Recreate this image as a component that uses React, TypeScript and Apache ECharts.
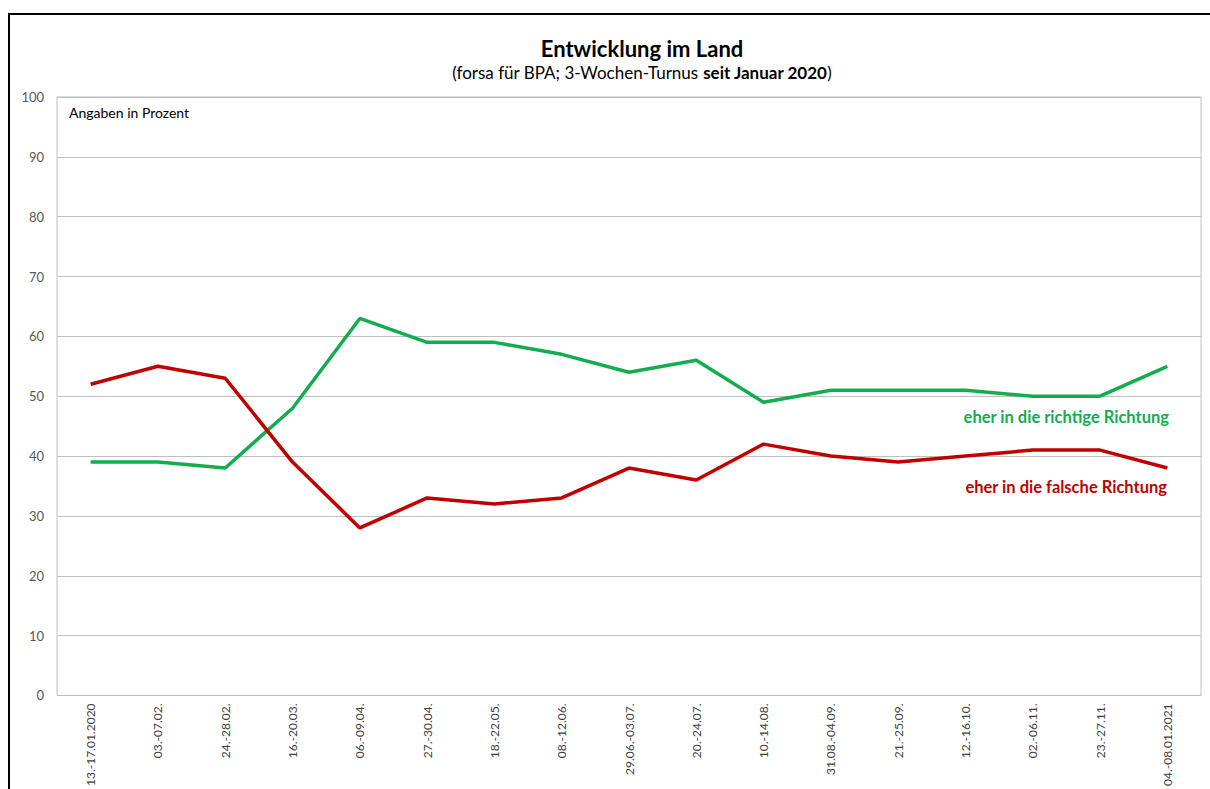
import React, { useEffect, useRef } from "react";
import * as echarts from "echarts";

const categories = [
  "13.-17.01.2020", "03.-07.02.", "24.-28.02.", "16.-20.03.", "06.-09.04.", "27.-30.04.",
  "18.-22.05.", "08.-12.06.", "29.06.-03.07.", "20.-24.07.", "10.-14.08.", "31.08.-04.09.",
  "21.-25.09.", "12.-16.10.", "02.-06.11.", "23.-27.11.", "04.-08.01.2021",
];
const richtig = [39, 39, 38, 48, 63, 59, 59, 57, 54, 56, 49, 51, 51, 51, 50, 50, 55];
const falsch = [52, 55, 53, 39, 28, 33, 32, 33, 38, 36, 42, 40, 39, 40, 41, 41, 38];
const seriesNames = ["eher in die richtige Richtung", "eher in die falsche Richtung"];

const FONT = "Lato, 'Open Sans', sans-serif";
const GREEN = "#13ad4f";
const RED = "#c00000";

export default function App() {
  const ref = useRef<HTMLDivElement>(null);
  useEffect(() => {
    const chart = echarts.init(ref.current!, null, { renderer: "svg" });
    chart.setOption({
      animation: false,
      textStyle: { fontFamily: FONT },
      title: {
        text: "Entwicklung im Land",
        subtext: "(forsa für BPA; 3-Wochen-Turnus {b|seit Januar 2020})",
        left: 637,
        textAlign: "center",
        top: 32,
        itemGap: 5,
        textStyle: { fontFamily: FONT, fontSize: 22, fontWeight: "bold", color: "#000" },
        subtextStyle: {
          fontFamily: FONT, fontSize: 17, color: "#000",
          rich: { b: { fontFamily: FONT, fontSize: 17, fontWeight: "bold", color: "#000" } },
        },
      },
      grid: {
        left: 57, right: 9, top: 97, bottom: 90, show: true,
        borderColor: "#bfbfbf", borderWidth: 1, containLabel: false,
      },
      xAxis: {
        type: "category",
        data: categories,
        boundaryGap: true,
        axisLine: { show: false },
        axisTick: { show: false },
        axisLabel: { rotate: 90, fontSize: 12, color: "#404040", margin: 8, fontFamily: FONT, interval: 0 },
      },
      yAxis: {
        type: "value",
        min: 0, max: 100, interval: 10,
        axisLine: { show: false },
        axisTick: { show: false },
        splitLine: { lineStyle: { color: "#bfbfbf", width: 1 } },
        axisLabel: { fontSize: 13, color: "#595959", margin: 13, fontFamily: FONT },
      },
      series: [
        {
          name: seriesNames[0], type: "line", data: richtig, symbol: "none",
          lineStyle: { color: GREEN, width: 3.5 }, itemStyle: { color: GREEN },
        },
        {
          name: seriesNames[1], type: "line", data: falsch, symbol: "none",
          lineStyle: { color: RED, width: 3.5 }, itemStyle: { color: RED },
        },
      ],
      graphic: [
        { type: "rect", shape: { x: 9, y: 14, width: 1400, height: 1000 }, style: { fill: "none", stroke: "#000", lineWidth: 2 }, silent: true },
        { type: "text", x: 69, y: 105, style: { text: "Angaben in Prozent", fontSize: 14, fill: "#000", fontFamily: FONT } },
        { type: "text", x: 1169, y: 408, style: { text: seriesNames[0], fontSize: 16.5, fontWeight: "bold", fill: GREEN, textAlign: "right", fontFamily: FONT } },
        { type: "text", x: 1167, y: 478, style: { text: seriesNames[1], fontSize: 16.5, fontWeight: "bold", fill: RED, textAlign: "right", fontFamily: FONT } },
      ],
    });
    return () => chart.dispose();
  }, []);
  return <div ref={ref} style={{ position: "absolute", left: 0, top: 0, width: 1210, height: 789, background: "#fff" }} />;
}
